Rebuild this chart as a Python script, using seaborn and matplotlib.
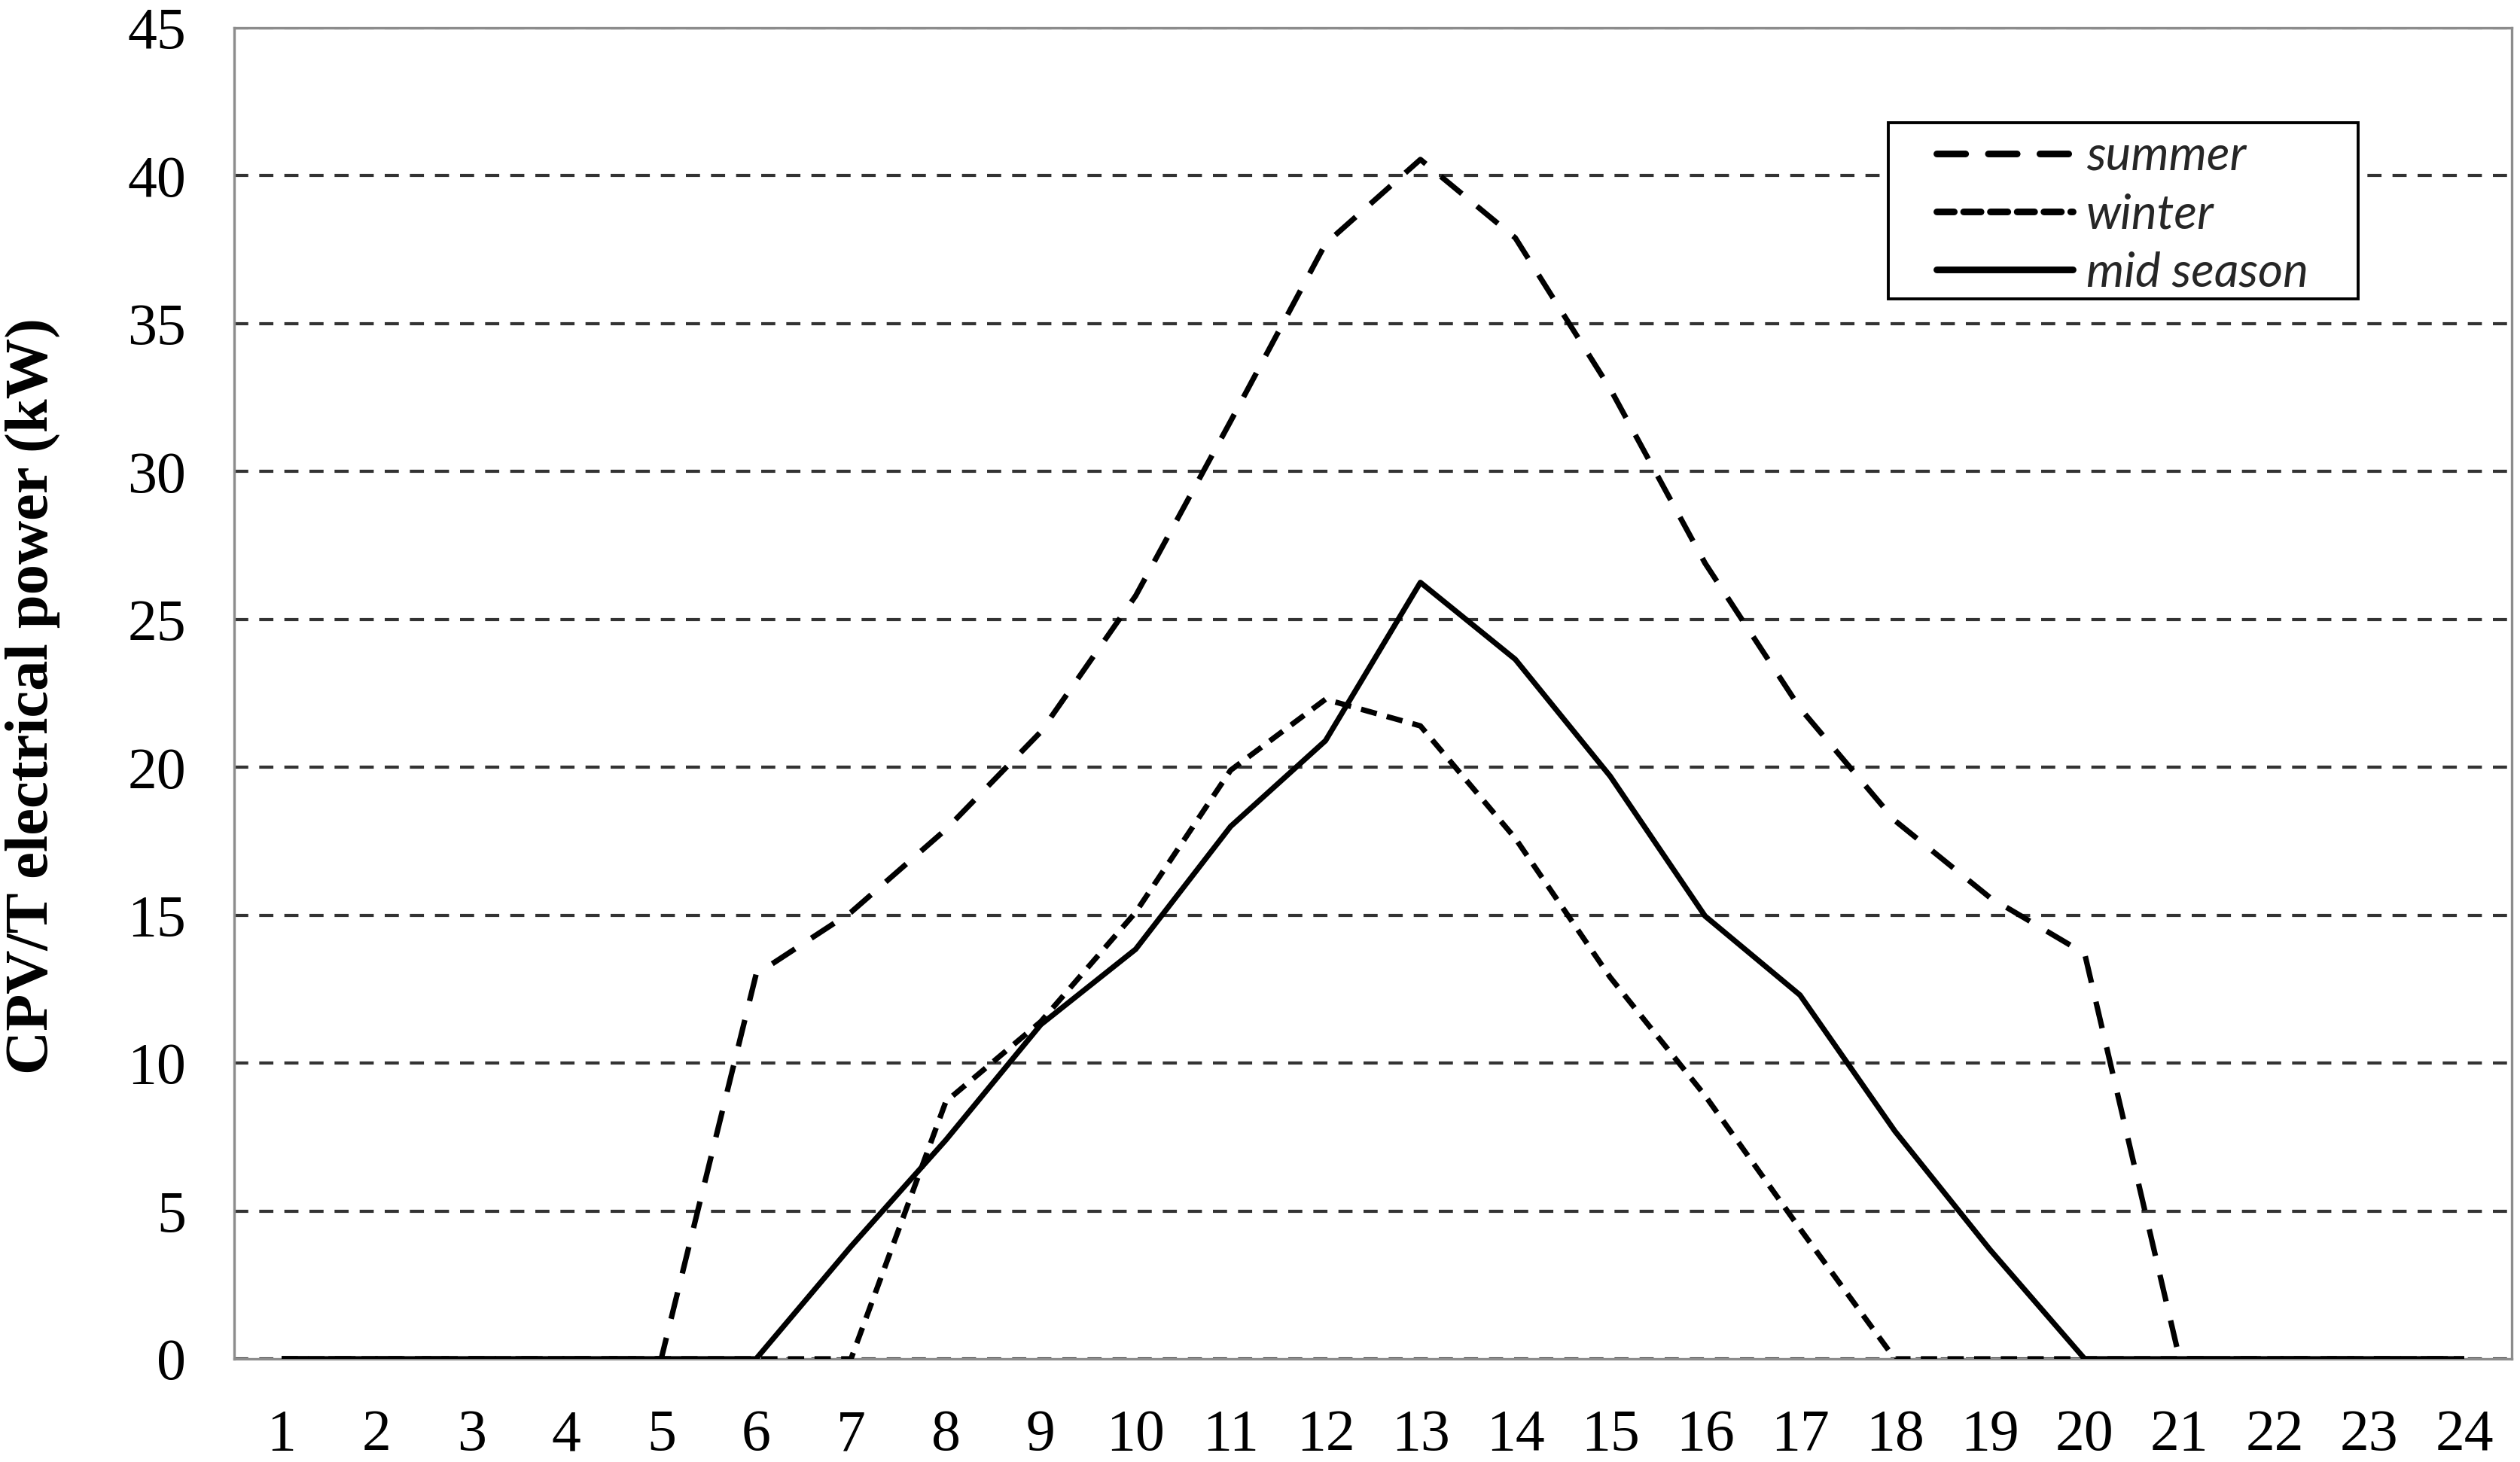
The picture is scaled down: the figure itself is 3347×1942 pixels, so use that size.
import numpy as np
import pandas as pd
import matplotlib
matplotlib.use("Agg")
import matplotlib.pyplot as plt
import seaborn as sns
from matplotlib.lines import Line2D
from matplotlib.patches import Rectangle

hours = list(range(1, 25))
summer = [0, 0, 0, 0, 0, 13.0, 15.1, 17.9, 21.2, 25.8, 31.7, 37.7,
          40.55, 37.9, 32.8, 26.9, 22.0, 18.2, 15.6, 13.7, 0, 0, 0, 0]
winter = [0, 0, 0, 0, 0, 0, 0, 8.7, 11.4, 15.1, 19.9, 22.3,
          21.4, 17.6, 12.9, 8.9, 4.4, 0, 0, 0, 0, 0, 0, 0]
mid_season = [0, 0, 0, 0, 0, 0, 3.8, 7.4, 11.3, 13.85, 18.0, 20.9,
              26.25, 23.65, 19.7, 14.97, 12.3, 7.7, 3.7, 0, 0, 0, 0, 0]
series_names = ["summer", "winter", "mid season"]
y_ticks = list(range(0, 50, 5))
y_label = "CPV/T electrical power (kW)"

df = pd.concat([
    pd.DataFrame({"hour": hours, "power": summer, "season": "summer"}),
    pd.DataFrame({"hour": hours, "power": winter, "season": "winter"}),
    pd.DataFrame({"hour": hours, "power": mid_season, "season": "mid season"}),
], ignore_index=True)

sns.set_style("white")
plt.rcParams["font.family"] = ["Liberation Serif", "DejaVu Serif"]

W, H, DPI = 3347, 1942, 200
fig = plt.figure(figsize=(W / DPI, H / DPI), dpi=DPI)
ax = fig.add_axes([311 / W, 1 - 1805 / H, (3336 - 311) / W, (1805 - 37) / H])

lw = 2.6
dash_map = {"summer": (5.0, 3.6), "winter": (3.0, 1.9), "mid season": ""}
for name in series_names:
    sub = df[df["season"] == name]
    sns.lineplot(data=sub, x="hour", y="power", ax=ax, color="black",
                 linewidth=lw, dashes=False, legend=False, zorder=3,
                 solid_capstyle="butt")
    line = ax.lines[-1]
    if dash_map[name]:
        line.set_dashes(dash_map[name])
        line.set_dash_capstyle("butt")

ax.set_xlim(0.5, 24.5)
ax.set_ylim(0, 45)
ax.set_yticks(y_ticks)
ax.set_yticklabels([str(v) for v in y_ticks])
ax.set_xticks(hours)
ax.set_xticklabels([str(h) for h in hours])
ax.set_xticks(np.arange(0.5, 25, 1.0), minor=True)

ax.yaxis.grid(True, color="#333333", linewidth=1.5, linestyle=(0, (4.5, 3.5)), zorder=1)
ax.xaxis.grid(False)
ax.set_axisbelow(True)

for s in ax.spines.values():
    s.set_visible(True)
    s.set_color("#8c8c8c")
    s.set_linewidth(1.2)

ax.tick_params(axis="y", which="both", length=0, pad=23, labelsize=28, colors="black")
ax.tick_params(axis="x", which="major", length=0, pad=24, labelsize=28, colors="black")
ax.tick_params(axis="x", which="minor", length=10, width=1.0, color="#8c8c8c", direction="out")

ax.set_xlabel("")
ax.set_ylabel(y_label, fontsize=29, fontweight="bold", color="black")
ax.yaxis.set_label_coords(-0.0764, 0.498)

# legend frame drawn as a rectangle in figure coordinates
frame = Rectangle((2508 / W, 1 - 397 / H), (3132 - 2508) / W, (397 - 163) / H,
                  transform=fig.transFigure, facecolor="white", edgecolor="black",
                  linewidth=1.4, zorder=5)
fig.patches.append(frame)

handles = [
    Line2D([], [], color="black", linewidth=3.2, dashes=(4.3, 3.4), dash_capstyle="round"),
    Line2D([], [], color="black", linewidth=3.2, dashes=(2.6, 1.4), dash_capstyle="round"),
    Line2D([], [], color="black", linewidth=3.2, solid_capstyle="round"),
]
leg = fig.legend(handles, series_names, loc="upper left",
                 bbox_to_anchor=(2572 / W, 1 - 179 / H),
                 prop={"family": ["Lato", "DejaVu Sans"], "style": "italic", "size": 23},
                 frameon=False,
                 handlelength=2.83, handletextpad=0.28, labelspacing=0.3,
                 borderpad=0, borderaxespad=0)
leg.set_zorder(6)

fig.savefig("out.png", dpi=DPI)
